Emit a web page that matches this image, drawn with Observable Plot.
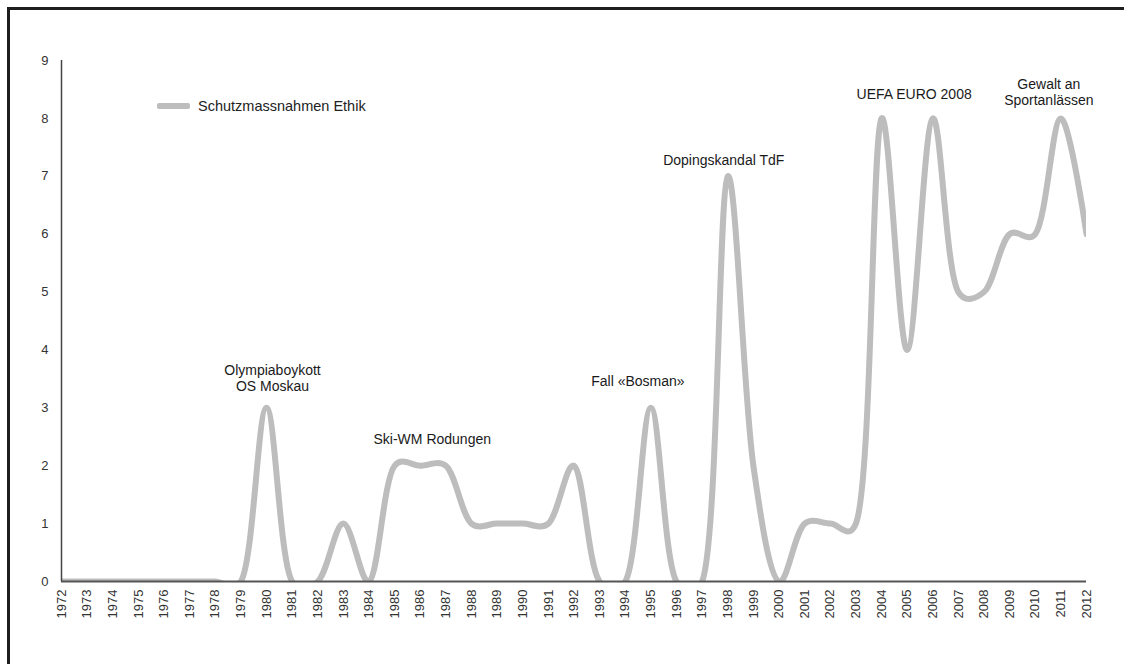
<!DOCTYPE html>
<html><head><meta charset="utf-8">
<script src="https://cdn.jsdelivr.net/npm/d3@7"></script>
<script src="https://cdn.jsdelivr.net/npm/@observablehq/plot@0.6"></script>
<style>
html,body{margin:0;padding:0;background:#fff;}
#wrap{position:relative;width:1129px;height:664px;overflow:hidden;font-family:"Liberation Sans",Arial,sans-serif;}
#wrap svg{position:absolute;left:0;top:0;}
#frame{position:absolute;left:7px;top:7px;width:1114px;height:680px;border-top:3px solid #1e1e1e;border-left:3px solid #1e1e1e;pointer-events:none;}
#legend{position:absolute;left:157px;top:98px;display:flex;align-items:center;font-size:14.5px;color:#222;white-space:nowrap;}
#legend .sw{display:inline-block;width:33px;height:6px;background:#bdbdbd;border-radius:2px;margin-right:8px;}
</style></head><body>
<div id="wrap"><div id="frame"></div><div id="legend"><span class="sw"></span><span>Schutzmassnahmen Ethik</span></div></div>
<script>
const years = [1972,1973,1974,1975,1976,1977,1978,1979,1980,1981,1982,1983,1984,1985,1986,1987,1988,1989,1990,1991,1992,1993,1994,1995,1996,1997,1998,1999,2000,2001,2002,2003,2004,2005,2006,2007,2008,2009,2010,2011,2012];
const values = [0,0,0,0,0,0,0,0,3,0,0,1,0,2,2,2,1,1,1,1,2,0,0,3,0,0,7,2,0,1,1,1,8,4,8,5,5,6,6,8,6];
const yTicks = [0,1,2,3,4,5,6,7,8,9];
const seriesName = "Schutzmassnahmen Ethik";
const annoYears = [1980,1986,1995,1998,2005,2011];
const annoValues = [3,2,3,7,8,8];
const annoLabels = ["Olympiaboykott\nOS Moskau","Ski-WM Rodungen","Fall «Bosman»","Dopingskandal TdF","UEFA EURO 2008","Gewalt an\nSportanlässen"];

const data = years.map((y,i)=>({year:y, value:values[i]}));
const annos = annoYears.map((y,i)=>({year:y, value:annoValues[i], label:annoLabels[i]}));
// layout offsets (pixels) for annotation text
const annoDx = [6,12,-13,-4,7,-12];
const annoDy = [-17,-22,-22,-11,-19,-13];

const chart = Plot.plot({
  width: 1129,
  height: 664,
  marginLeft: 61,
  marginRight: 43,
  marginTop: 60,
  marginBottom: 83,
  style: {fontFamily: '"Liberation Sans", Arial, sans-serif', fontSize: "13px", color: "#333", background: "transparent"},
  x: {domain: [1972, 2012], ticks: years, tickFormat: d => String(d), tickRotate: -90, tickSize: 0, tickPadding: 8, label: null},
  y: {domain: [0, 9], ticks: yTicks, tickSize: 0, tickPadding: 13, label: null},
  marks: [
    Plot.line(data, {x: "year", y: "value", stroke: "#bdbdbd", strokeWidth: 6, curve: d3.curveCatmullRom.alpha(0.3), clip: true}),
    Plot.ruleY([0], {stroke: "#555", strokeWidth: 2}),
    Plot.ruleX([1972], {stroke: "#444", strokeWidth: 1.5}),
    ...annos.map((a,i)=>Plot.text([a], {x: "year", y: "value", text: "label", dx: annoDx[i], dy: annoDy[i], lineAnchor: "bottom", lineHeight: 1.15, fontSize: 14, fill: "#1a1a1a"}))
  ]
});
document.getElementById("wrap").prepend(chart);
</script>
</body></html>
